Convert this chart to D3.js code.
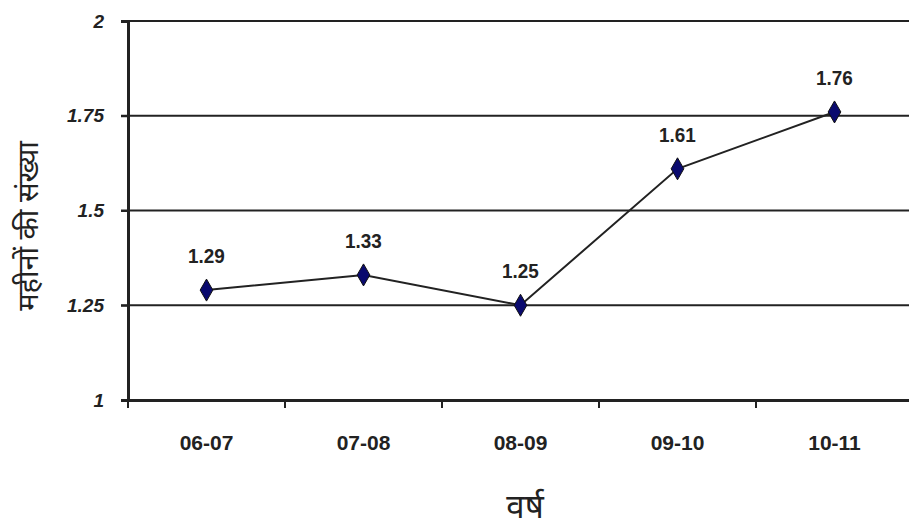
<!DOCTYPE html>
<html><head><meta charset="utf-8">
<script src="https://cdn.jsdelivr.net/npm/d3@7"></script>
<style>body{margin:0;background:#fff;}svg{display:block;}</style>
</head><body>
<svg id="c" width="909" height="527"></svg>
<script>
const categories = ["06-07","07-08","08-09","09-10","10-11"];
const values = [1.29,1.33,1.25,1.61,1.76];
const yTicks = [1,1.25,1.5,1.75,2];
const yTickLabels = ["1","1.25","1.5","1.75","2"];
const yTitle = "महीनों की संख्या";
const xTitle = "वर्ष";

const svg = d3.select("#c");
const L=128, R=913, T=21, B=400;
const x = d3.scaleBand().domain(categories).range([L,R]);
const y = d3.scaleLinear().domain([1,2]).range([B,T]);
const font = "Liberation Sans, Arial, sans-serif";

// gridlines
svg.append("g").selectAll("line").data(yTicks.filter(d=>d>1)).join("line")
  .attr("x1",L-7).attr("x2",909).attr("y1",d=>y(d)).attr("y2",d=>y(d))
  .attr("stroke","#222").attr("stroke-width",2.2);

// y axis
const ya = svg.append("g").attr("transform",`translate(${L},0)`)
  .call(d3.axisLeft(y).tickValues(yTicks).tickFormat((d,i)=>yTickLabels[i]).tickSize(7).tickPadding(17));
ya.select(".domain").attr("stroke","#222").attr("stroke-width",3);
ya.selectAll(".tick line").attr("stroke","#222").attr("stroke-width",2);
ya.selectAll("text").attr("font-family",font).attr("font-size",19)
  .attr("font-weight","bold").attr("font-style","italic").attr("fill","#222");

// x axis
const xa = svg.append("g").attr("transform",`translate(0,${B})`)
  .call(d3.axisBottom(x).tickSize(0).tickFormat(()=>""));
xa.select(".domain").attr("stroke","#222").attr("stroke-width",3);
svg.append("g").selectAll("text").data(categories).join("text")
  .attr("x",d=>x(d)+x.bandwidth()/2).attr("y",450).attr("text-anchor","middle")
  .attr("font-family",font).attr("font-size",21).attr("font-weight","bold").attr("fill","#222")
  .text(d=>d);
svg.append("g").selectAll("line").data(categories).join("line")
  .attr("x1",d=>x(d)).attr("x2",d=>x(d)).attr("y1",B).attr("y2",B+8)
  .attr("stroke","#222").attr("stroke-width",2);

const cx = d=>x(d)+x.bandwidth()/2;
const line = d3.line().x((d,i)=>cx(categories[i])).y(d=>y(d));
svg.append("path").datum(values).attr("d",line).attr("fill","none").attr("stroke","#222").attr("stroke-width",2);

svg.append("g").selectAll("path").data(values).join("path")
  .attr("d",d3.symbol(d3.symbolDiamond,140)())
  .attr("transform",(d,i)=>`translate(${cx(categories[i])},${y(d)})`)
  .attr("fill","#0a0a6e").attr("stroke","#111").attr("stroke-width",1);

svg.append("g").selectAll("text").data(values).join("text")
  .attr("transform",(d,i)=>`translate(${cx(categories[i])},${y(d)-27}) scale(0.9,1)`)
  .attr("text-anchor","middle").attr("font-family",font)
  .attr("font-size",21).attr("font-weight","bold").attr("fill","#222")
  .text(d=>d.toFixed(2));

svg.append("text").attr("transform","translate(38,226) rotate(-90)")
  .attr("text-anchor","middle").attr("font-family","Noto Sans, sans-serif").attr("font-size",29)
  .attr("fill","#222").text(yTitle);
svg.append("text").attr("x",525).attr("y",518)
  .attr("text-anchor","middle").attr("font-family","Noto Sans, sans-serif").attr("font-size",33)
  .attr("fill","#222").text(xTitle);
</script>
</body></html>
